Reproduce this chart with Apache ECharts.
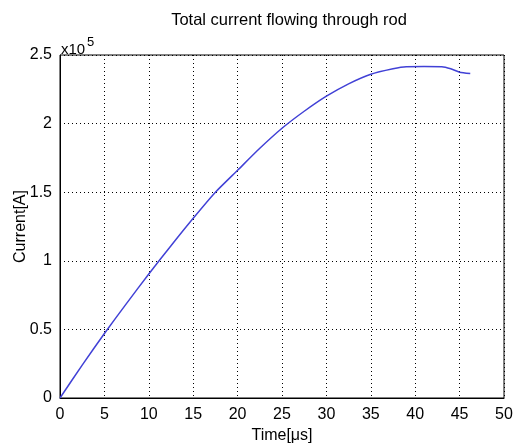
<!DOCTYPE html>
<html>
<head>
<meta charset="utf-8">
<script src="https://cdn.jsdelivr.net/npm/echarts@6/dist/echarts.min.js"></script>
<style>
    html, body { margin: 0; padding: 0; background: #fff; }
    #chart { width: 513px; height: 447px; }
</style>
</head>
<body>
<div id="chart"></div>
<script>
    // time in microseconds, current in amperes
    var timeUs = [0, 2.5, 5, 7.5, 10, 12.5, 15, 17.5, 20, 22.5, 25, 27.5, 30, 32.5, 35, 37.5, 39, 41, 43, 44, 45, 46.2];
    var currentA = [0, 24000, 47000, 69000, 90400, 111000, 131000, 150000, 166000, 182000, 196600, 209000, 220000, 229000, 236000, 240000, 241500, 241600, 241500, 240000, 237500, 236500];
    var xTicks = [0, 5, 10, 15, 20, 25, 30, 35, 40, 45, 50];
    var yTicks = [0, 0.5, 1, 1.5, 2, 2.5];

    var font = 'Liberation Sans';
    var points = timeUs.map(function (t, i) { return [t, currentA[i]]; });

    var chart = echarts.init(document.getElementById('chart'));
    chart.setOption({
        animation: false,
        title: {
            text: 'Total current flowing through rod',
            left: 284,
            textAlign: 'center',
            top: 7,
            textStyle: { fontFamily: font, fontSize: 16.5, fontWeight: 'normal', color: '#000' }
        },
        grid: {
            left: 60,
            top: 55,
            right: 9,
            bottom: 49,
            containLabel: false,
            outerBoundsMode: 'none',
            show: true,
            borderColor: '#000',
            borderWidth: 1,
            backgroundColor: '#fff'
        },
        xAxis: {
            type: 'value',
            min: xTicks[0],
            max: xTicks[xTicks.length - 1],
            interval: 5,
            name: 'Time[μs]',
            nameLocation: 'middle',
            nameGap: 30,
            nameMoveOverlap: false,
            nameTextStyle: { fontFamily: font, fontSize: 16, color: '#000' },
            axisLine: { lineStyle: { color: '#000' } },
            axisTick: { show: false },
            axisLabel: { fontFamily: font, fontSize: 16, color: '#000', margin: 9 },
            splitLine: { show: true, lineStyle: { color: '#000', type: [1, 3], width: 1 } }
        },
        yAxis: {
            type: 'value',
            min: 0,
            max: yTicks[yTicks.length - 1] * 1e5,
            interval: 50000,
            name: 'Current[A]',
            nameLocation: 'middle',
            nameGap: 31,
            nameMoveOverlap: false,
            nameTextStyle: { fontFamily: font, fontSize: 16, color: '#000' },
            axisLine: { lineStyle: { color: '#000' } },
            axisTick: { show: false },
            axisLabel: {
                fontFamily: font, fontSize: 16, color: '#000', margin: 8,
                formatter: function (v) { return String(v / 1e5); }
            },
            splitLine: { show: true, lineStyle: { color: '#000', type: [1, 3], width: 1 } }
        },
        graphic: [{
            type: 'text',
            x: 61,
            y: 57,
            style: { text: 'x10', fontFamily: font, fontSize: 15, fill: '#000', verticalAlign: 'bottom' }
        }, {
            type: 'text',
            x: 87,
            y: 36,
            style: { text: '5', fontFamily: font, fontSize: 13, fill: '#000', verticalAlign: 'top' }
        }],
        series: [{
            type: 'line',
            data: points,
            showSymbol: false,
            smooth: 0.2,
            lineStyle: { color: '#4141d6', width: 1.5 },
            z: 5
        }]
    });
</script>
</body>
</html>
